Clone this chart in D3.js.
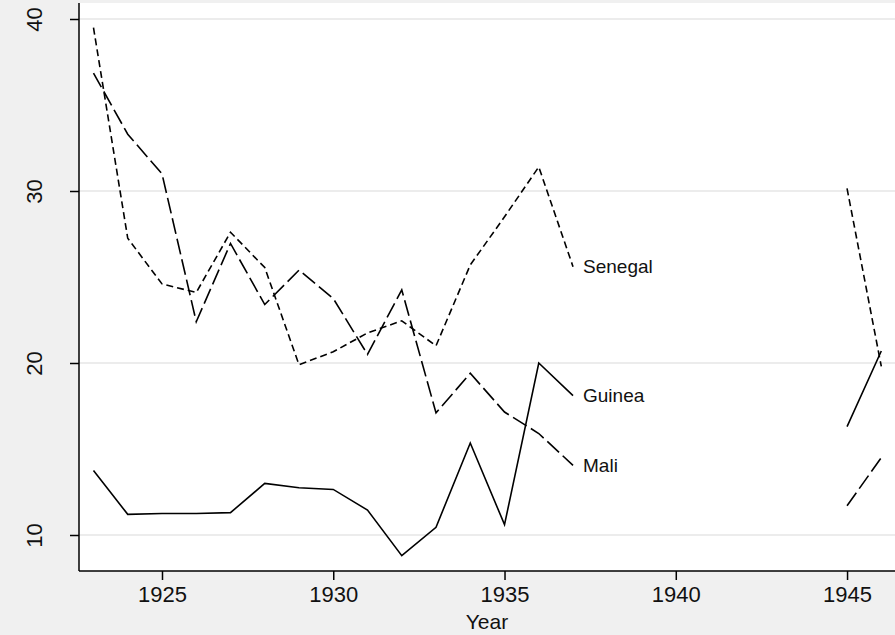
<!DOCTYPE html>
<html>
<head>
<meta charset="utf-8">
<script src="https://cdn.jsdelivr.net/npm/d3@7"></script>
<style>
	body { margin: 0; background: #f0f0f0; }
	svg { display: block; font-family: 'Liberation Sans', Arial, sans-serif; }
</style>
</head>
<body>
<div id="chart"></div>
<script>
let years = [1923, 1924, 1925, 1926, 1927, 1928, 1929, 1930, 1931, 1932, 1933, 1934, 1935, 1936, 1937,
	1938, 1939, 1940, 1941, 1942, 1943, 1944, 1945, 1946]

// null = no observation (war years)
let senegal = [39.5, 27.25, 24.6, 24.1, 27.6, 25.55, 19.9, 20.65, 21.75, 22.45, 21.0, 25.7, 28.5, 31.4, 25.6,
	null, null, null, null, null, null, null, 30.15, 19.8]
let mali = [36.85, 33.3, 31.0, 22.4, 26.95, 23.4, 25.4, 23.75, 20.5, 24.25, 17.1, 19.4, 17.15, 15.9, 14.05,
	null, null, null, null, null, null, null, 11.7, 14.5]
let guinea = [13.75, 11.2, 11.25, 11.25, 11.3, 13.0, 12.75, 12.65, 11.45, 8.8, 10.45, 15.35, 10.6, 20.0, 18.1,
	null, null, null, null, null, null, null, 16.3, 20.7]

let xTicks = [1925, 1930, 1935, 1940, 1945]
let yTicks = [10, 20, 30, 40]

let series = [
	{ name: 'Senegal', values: senegal, dash: '7,4' },
	{ name: 'Guinea', values: guinea, dash: null },
	{ name: 'Mali', values: mali, dash: '16,5' }
]

let width = 895
let height = 635
let margin = { top: 3, right: 0, bottom: 64, left: 79 }
let innerW = width - margin.left - margin.right
let innerH = height - margin.top - margin.bottom

let svg = d3.select('#chart')
	.append('svg')
	.attr('width', width)
	.attr('height', height)

svg.append('rect')
	.attr('width', width)
	.attr('height', height)
	.attr('fill', '#f0f0f0')

let g = svg.append('g')
	.attr('transform', `translate(${margin.left},${margin.top})`)

let x = d3.scaleLinear()
	.domain([1922.577, 1946.4])
	.range([0, innerW])

let y = d3.scaleLinear()
	.domain([7.907, 40.93])
	.range([innerH, 0])

g.append('rect')
	.attr('width', innerW)
	.attr('height', innerH)
	.attr('fill', '#fff')

// horizontal grid
g.selectAll('.grid')
	.data(yTicks)
	.enter()
		.append('line')
		.attr('class', 'grid')
		.attr('x1', 0)
		.attr('x2', innerW)
		.attr('y1', d => y(d))
		.attr('y2', d => y(d))
		.attr('stroke', '#e6e6e6')
		.attr('stroke-width', 1.5)

let line = d3.line()
	.defined(d => d[1] !== null)
	.x(d => x(d[0]))
	.y(d => y(d[1]))

g.selectAll('.series')
	.data(series)
	.enter()
		.append('path')
		.attr('class', 'series')
		.attr('d', d => line(years.map((yr, i) => [yr, d.values[i]])))
		.attr('fill', 'none')
		.attr('stroke', '#000')
		.attr('stroke-width', 1.6)
		.attr('stroke-dasharray', d => d.dash)

// labels at the last pre-war observation
let lastIdx = years.indexOf(1937)
g.selectAll('.label')
	.data(series)
	.enter()
		.append('text')
		.attr('class', 'label')
		.attr('x', x(1937) + 10)
		.attr('y', d => y(d.values[lastIdx]))
		.attr('dy', '0.35em')
		.attr('font-size', 19)
		.attr('fill', '#111')
		.text(d => d.name)

let xAxis = g.append('g')
	.attr('transform', `translate(0,${innerH})`)
	.call(d3.axisBottom(x).tickValues(xTicks).tickFormat(d3.format('d')).tickSize(9).tickPadding(6))

let yAxis = g.append('g')
	.call(d3.axisLeft(y).tickValues(yTicks).tickSize(9).tickPadding(0))

xAxis.select('.domain').attr('d', `M0,0H${innerW}`)
yAxis.select('.domain').attr('d', `M0,0V${innerH}`)

g.selectAll('.domain')
	.attr('stroke', '#000')
	.attr('stroke-width', 1.5)

g.selectAll('.tick line')
	.attr('stroke', '#000')
	.attr('stroke-width', 1.5)

xAxis.selectAll('text')
	.attr('font-size', 22)
	.attr('fill', '#111')
	.attr('font-family', "'Liberation Sans', Arial, sans-serif")

// rotated y labels, reading bottom to top
yAxis.selectAll('.tick text')
	.attr('font-size', 22)
	.attr('fill', '#111')
	.attr('font-family', "'Liberation Sans', Arial, sans-serif")
	.attr('x', null)
	.attr('dy', null)
	.attr('text-anchor', 'middle')
	.attr('transform', 'translate(-37,0) rotate(-90)')

svg.append('text')
	.attr('x', margin.left + innerW / 2)
	.attr('y', 629)
	.attr('text-anchor', 'middle')
	.attr('font-size', 21)
	.attr('fill', '#111')
	.text('Year')
</script>
</body>
</html>
